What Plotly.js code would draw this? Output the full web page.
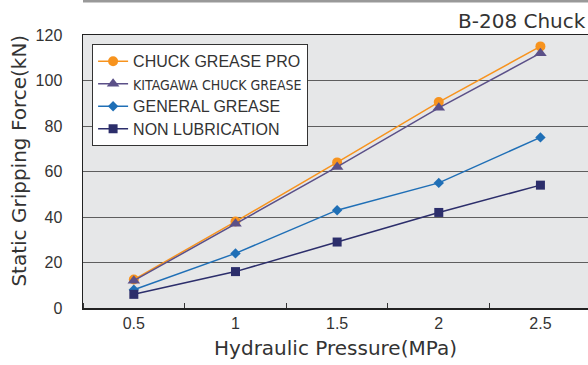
<!DOCTYPE html>
<html><head><meta charset="utf-8">
<script src="https://cdn.plot.ly/plotly-3.0.1.min.js"></script>
<style>html,body{margin:0;padding:0;background:#fff;}#chart{width:588px;height:365px;}</style>
</head><body><div id="chart"></div>
<script>
const pressure = [0.5, 1, 1.5, 2, 2.5];
const chuckGreasePro = [12.5, 38, 64, 90.5, 115];
const kitagawaChuckGrease = [12, 37, 62, 88, 112];
const generalGrease = [8, 24, 43, 55, 75];
const nonLubrication = [6, 16, 29, 42, 54];
const seriesNames = ['CHUCK GREASE PRO', 'KITAGAWA CHUCK GREASE', 'GENERAL GREASE', 'NON LUBRICATION'];
const xTickVals = [0.5, 1, 1.5, 2, 2.5];
const xTickText = ['0.5', '1', '1.5', '2', '2.5'];
const yTickVals = [0, 20, 40, 60, 80, 100, 120];
const yTitle = 'Static Gripping Force(kN)';
const xTitle = 'Hydraulic Pressure(MPa)';
const chartTitle = 'B-208 Chuck';

const FONT = 'Liberation Sans, Arial, sans-serif';
const TFONT = 'DejaVu Sans, sans-serif';
function tr(y, name, color, symbol, size, condensed) {
  const styled = condensed
    ? '<span style="font-family:\'DejaVu Sans Condensed\',\'Liberation Sans Narrow\',sans-serif;font-size:14px">' + name + '</span>'
    : '<span style="font-size:16px">' + name + '</span>';
  return {
    x: pressure, y: y, type: 'scatter', mode: 'lines+markers',
    name: styled,
    line: {color: color, width: 1.5},
    marker: {color: color, symbol: symbol, size: size}
  };
}
const data = [
  tr(chuckGreasePro, seriesNames[0], '#f7931e', 'circle', 10),
  tr(kitagawaChuckGrease, seriesNames[1], '#5b5088', 'triangle-up', 11, true),
  tr(generalGrease, seriesNames[2], '#1f6fb6', 'diamond', 8),
  tr(nonLubrication, seriesNames[3], '#2c2e6b', 'square', 9)
];
const layout = {
  width: 588, height: 365,
  margin: {l: 83, r: 0, t: 35, b: 57},
  paper_bgcolor: '#ffffff', plot_bgcolor: '#e6e7e8',
  font: {family: FONT, color: '#333', size: 16},
  showlegend: true,
  legend: {x: 0.018, y: 0.967, xanchor: 'left', yanchor: 'top', bgcolor: '#ffffff',
    bordercolor: '#333', borderwidth: 1, font: {family: FONT, size: 15, color: '#333'},
    traceorder: 'normal'},
  xaxis: {
    range: [0.25, 2.734], tickvals: xTickVals, ticktext: xTickText, ticks: '',
    showgrid: false, zeroline: false, showline: true, linecolor: '#222', linewidth: 1.5, mirror: true,
    minor: {tick0: 0.25, dtick: 0.5, ticks: 'inside', ticklen: 5, tickcolor: '#333', tickwidth: 1, showgrid: false},
    tickfont: {size: 16, color: '#333'},
    title: {text: xTitle, font: {family: TFONT, size: 20, color: '#333'}, standoff: 10}
  },
  yaxis: {
    range: [0, 120], tickvals: yTickVals, ticks: 'outside', ticklen: 16, tickcolor: 'rgba(0,0,0,0)',
    showgrid: true, gridcolor: '#5e5e5e', gridwidth: 1,
    zeroline: false, showline: true, linecolor: '#222', linewidth: 1.5,
    tickfont: {size: 16, color: '#333'}
  },
  annotations: [
    {xref: 'paper', yref: 'paper', x: 1, y: 1.053, xanchor: 'right', yanchor: 'middle',
      text: chartTitle, showarrow: false, font: {family: TFONT, size: 20, color: '#333'}},
    {xref: 'paper', yref: 'paper', x: -0.1267, y: 0.54, xanchor: 'center', yanchor: 'middle',
      textangle: -90, text: yTitle, showarrow: false, font: {family: TFONT, size: 20, color: '#333'}}
  ],
  shapes: [{type: 'rect', xref: 'paper', yref: 'paper', x0: 0, x1: 1, y0: 1.119, y1: 1.13,
    fillcolor: '#999', line: {width: 0}}]
};
Plotly.newPlot('chart', data, layout, {displayModeBar: false, staticPlot: true});
</script></body></html>
